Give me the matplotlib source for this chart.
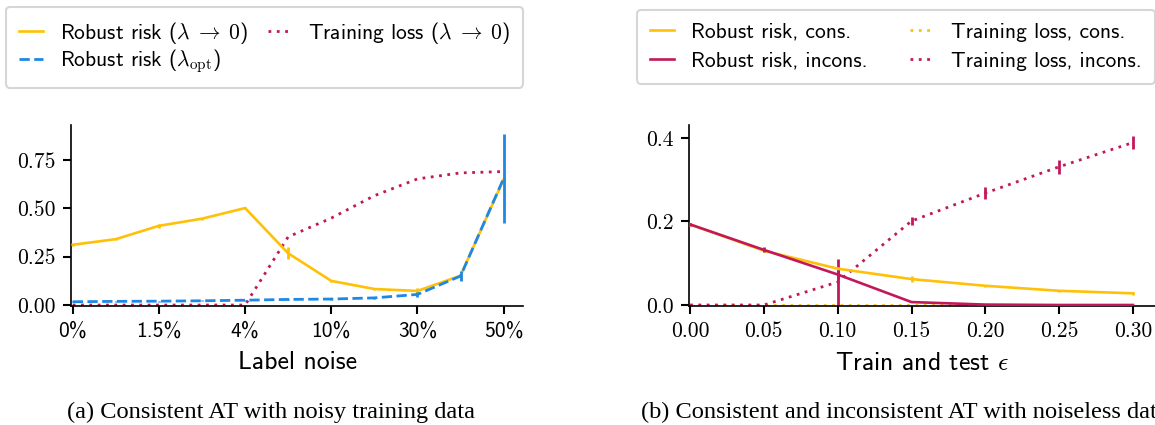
import matplotlib
matplotlib.use("Agg")
import matplotlib.pyplot as plt
from matplotlib.lines import Line2D

plt.rcParams['mathtext.fontset'] = 'cm'
plt.rcParams['axes.unicode_minus'] = False
plt.rcParams['axes.formatter.use_mathtext'] = True

YEL = "#FFC107"
BLU = "#1E88E5"
CRI = "#C2185B"

# ---------------- data: panel (a) ----------------
noise_idx = [0, 1, 2, 3, 4, 5, 6, 7, 8, 9, 10]
noise_tick_pos = [0, 2, 4, 6, 8, 10]
noise_tick_labels = ["0%", "1.5%", "4%", "10%", "30%", "50%"]
robust_l0 = [0.312, 0.341, 0.410, 0.447, 0.502, 0.268, 0.125, 0.083, 0.073, 0.152, 0.650]
robust_l0_err = [0.004, 0.004, 0.012, 0.006, 0.006, 0.030, 0.004, 0.004, 0.015, 0.020, 0.010]
robust_opt = [0.017, 0.019, 0.020, 0.022, 0.025, 0.029, 0.031, 0.037, 0.055, 0.150, 0.655]
robust_opt_err = [0.002, 0.002, 0.002, 0.002, 0.003, 0.003, 0.003, 0.005, 0.015, 0.025, 0.230]
train_l0 = [0.0, 0.0, 0.0, 0.0, 0.0, 0.353, 0.450, 0.566, 0.653, 0.684, 0.691]

# ---------------- data: panel (b) ----------------
eps = [0.00, 0.05, 0.10, 0.15, 0.20, 0.25, 0.30]
eps_ticks = ["0.00", "0.05", "0.10", "0.15", "0.20", "0.25", "0.30"]
robust_cons = [0.193, 0.130, 0.087, 0.062, 0.046, 0.034, 0.028]
robust_cons_err = [0.004, 0.004, 0.003, 0.008, 0.003, 0.003, 0.004]
robust_incons = [0.193, 0.132, 0.073, 0.007, 0.001, 0.0, 0.0]
robust_incons_err = [0.004, 0.006, 0.010, 0.001, 0.001, 0.0, 0.0]
train_cons = [0.0, 0.0, 0.0, 0.0, 0.0, 0.0, 0.0]
train_incons = [0.0, 0.0, 0.055, 0.201, 0.268, 0.331, 0.389]
train_incons_err = [0.0, 0.0, 0.055, 0.010, 0.015, 0.017, 0.015]

W, H = 1155, 425
fig = plt.figure(figsize=(W / 100, H / 100), dpi=100)

def fx(px):
    return px / W

def fy(py):
    return 1 - py / H

ax1 = fig.add_axes([fx(71), fy(306), fx(523 - 71), (306 - 125) / H])
ax2 = fig.add_axes([fx(689), fy(306), fx(1155 - 689), (306 - 125) / H])

lw = 1.9
elw = 2.0
dot = (0, (1, 2))
TICK_FS = 15.5

# panel (a)
ax1.errorbar(noise_idx, robust_l0, yerr=robust_l0_err, color=YEL, lw=lw,
             elinewidth=elw, capsize=0, zorder=3)
ax1.errorbar(noise_idx, robust_opt, yerr=robust_opt_err, color=BLU, lw=2.0,
             ls='--', elinewidth=elw, capsize=0, zorder=4)
ax1.plot(noise_idx, train_l0, color=CRI, lw=2.0, ls=dot, zorder=2)

ax1.set_xlim(-0.04, 10.45)
ax1.set_ylim(-0.005, 0.932)
ax1.set_xticks(noise_tick_pos)
ax1.set_xticklabels(noise_tick_labels, fontfamily='cmss10', fontsize=TICK_FS)
ax1.set_yticks([0.0, 0.25, 0.5, 0.75])
ax1.set_yticklabels(["0.00", "0.25", "0.50", "0.75"], fontfamily='cmr10', fontsize=TICK_FS)
ax1.set_xlabel("Label noise", fontfamily='cmss10', fontsize=18.5, labelpad=8)

# panel (b)
ax2.errorbar(eps, robust_cons, yerr=robust_cons_err, color=YEL, lw=lw,
             elinewidth=elw, capsize=0, zorder=3)
ax2.errorbar(eps, robust_incons, yerr=robust_incons_err, color=CRI, lw=lw,
             elinewidth=elw, capsize=0, zorder=4)
ax2.plot(eps, train_cons, color=YEL, lw=2.0, ls=dot, zorder=2)
ax2.errorbar(eps, train_incons, yerr=train_incons_err, color=CRI, lw=2.0, ls=dot,
             elinewidth=elw, capsize=0, zorder=2)

ax2.set_xlim(-0.0007, 0.3149)
ax2.set_ylim(-0.0024, 0.431)
ax2.set_xticks(eps)
ax2.set_xticklabels(eps_ticks, fontfamily='cmr10', fontsize=TICK_FS)
ax2.set_yticks([0.0, 0.2, 0.4])
ax2.set_yticklabels(["0.0", "0.2", "0.4"], fontfamily='cmr10', fontsize=TICK_FS)
ax2.set_xlabel(r"Train and test $\epsilon$", fontfamily='cmss10', fontsize=18.5, labelpad=8)

for ax in (ax1, ax2):
    for s in ("top", "right"):
        ax.spines[s].set_visible(False)
    for s in ("left", "bottom"):
        ax.spines[s].set_linewidth(1.2)
    ax.tick_params(axis='both', direction='out', length=6, width=1.5, pad=5)

# legends
LEG_FS = 15.5
h1 = [Line2D([], [], color=YEL, lw=lw),
      Line2D([], [], color=BLU, lw=2.0, ls='--'),
      Line2D([], [], color=CRI, lw=2.0, ls=dot)]
l1 = [r"Robust risk ($\lambda \;\to\; 0$)", r"Robust risk ($\lambda_{\mathrm{opt}}$)",
      r"Training loss ($\lambda \;\to\; 0$)"]
leg1 = fig.legend(h1, l1, loc='upper left', bbox_to_anchor=(fx(6), fy(7)), ncol=2,
                  borderaxespad=0.0,
                  prop={'family': 'cmss10', 'size': LEG_FS}, frameon=True, fancybox=True,
                  handlelength=1.1, handletextpad=0.8, columnspacing=0.9,
                  borderpad=0.6, labelspacing=0.05, edgecolor='#cccccc')
leg1.get_frame().set_linewidth(1.5)

h2 = [Line2D([], [], color=YEL, lw=lw),
      Line2D([], [], color=CRI, lw=lw),
      Line2D([], [], color=YEL, lw=2.0, ls=dot),
      Line2D([], [], color=CRI, lw=2.0, ls=dot)]
l2 = ["Robust risk, cons.", "Robust risk, incons.",
      "Training loss, cons.", "Training loss, incons."]
leg2 = fig.legend(h2, l2, loc='upper left', bbox_to_anchor=(fx(637), fy(10)), ncol=2,
                  borderaxespad=0.0,
                  prop={'family': 'cmss10', 'size': LEG_FS}, frameon=True, fancybox=True,
                  handlelength=1.1, handletextpad=0.8, columnspacing=2.0,
                  borderpad=0.6, labelspacing=0.45, edgecolor='#cccccc')
leg2.get_frame().set_linewidth(1.5)

# captions
fig.text(fx(271), fy(412), "(a) Consistent AT with noisy training data",
         ha='center', va='center', fontfamily='Liberation Serif', fontsize=17.6)
fig.text(fx(641), fy(412), "(b) Consistent and inconsistent AT with noiseless data",
         ha='left', va='center', fontfamily='Liberation Serif', fontsize=17.6)

fig.savefig("out.png", dpi=100)
